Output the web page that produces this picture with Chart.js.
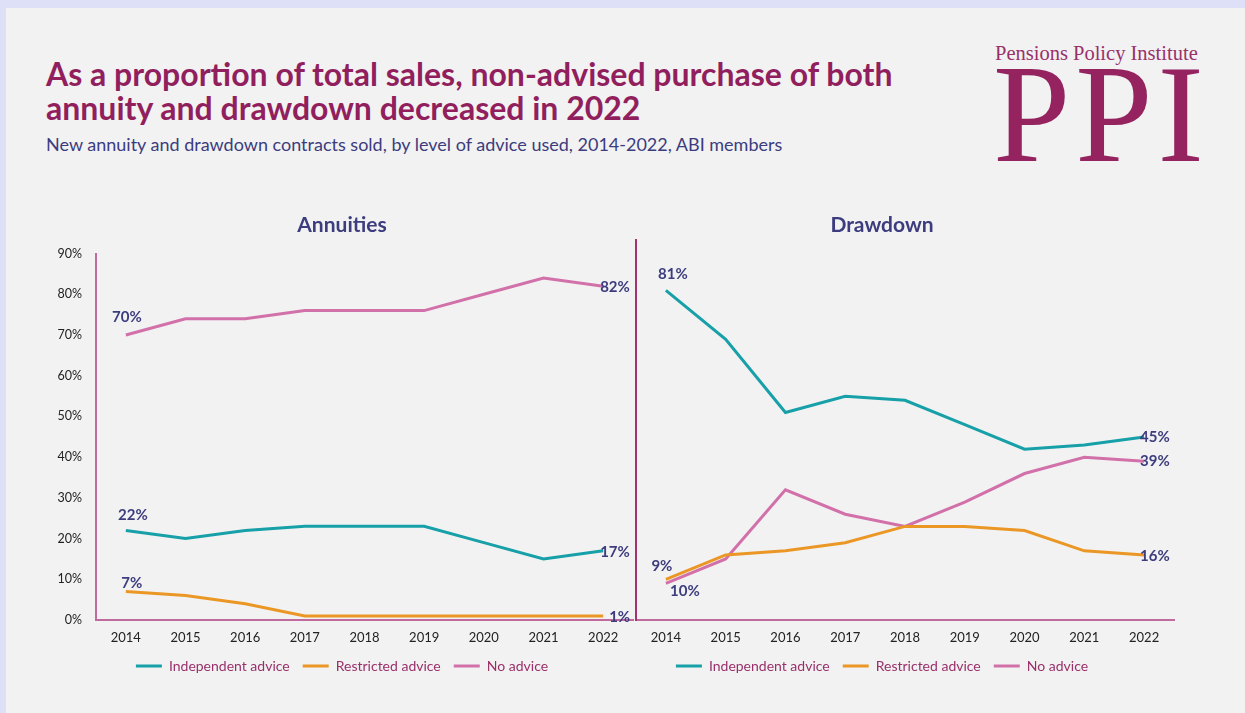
<!DOCTYPE html>
<html>
<head>
<meta charset="utf-8">
<script src="https://cdn.jsdelivr.net/npm/chart.js@4"></script>
<style>
  html, body { margin: 0; padding: 0; }
  body { width: 1245px; height: 713px; background: #dde0f6; position: relative; overflow: hidden; font-family: Lato, sans-serif; }
  #panel { position: absolute; left: 6px; top: 8px; right: 0; bottom: 0; background: #f2f2f2; }
  .title { position: absolute; left: 46px; top: 57px; margin: 0; font-size: 32px; font-weight: 700; line-height: 34px; color: #911f5d; }
  .subtitle { position: absolute; left: 46px; top: 133px; font-size: 18px; color: #3c3c7e; }
  .logo-small { position: absolute; left: 995px; top: 42px; font-family: "Liberation Serif", serif; font-size: 20.5px; color: #99306a; }
  .logo-big { position: absolute; left: 993px; top: 45px; font-family: "Liberation Serif", serif; font-size: 139px; line-height: 139px; color: #94235f; letter-spacing: 5px; }
  .box { position: absolute; }
</style>
</head>
<body>
<div id="panel"></div>
<h1 class="title">As a proportion of total sales, non-advised purchase of both<br>annuity and drawdown decreased in 2022</h1>
<div class="subtitle">New annuity and drawdown contracts sold, by level of advice used, 2014-2022, ABI members</div>
<div class="logo-big">PPI</div>
<div class="logo-small">Pensions Policy Institute</div>

<div class="box" style="left:40px; top:208px; width:600px; height:475px;"><canvas id="annuityChart"></canvas></div>
<div class="box" style="left:590px; top:208px; width:600px; height:475px;"><canvas id="drawdownChart"></canvas></div>

<script>
const years = ['2014', '2015', '2016', '2017', '2018', '2019', '2020', '2021', '2022'];
const seriesNames = ['Independent advice', 'Restricted advice', 'No advice'];

// annuities, % of contracts sold
const annuityIndependent = [22, 20, 22, 23, 23, 23, 19, 15, 17];
const annuityRestricted = [7, 6, 4, 1, 1, 1, 1, 1, 1];
const annuityNoAdvice = [70, 74, 74, 76, 76, 76, 80, 84, 82];

// drawdown, % of contracts sold
const drawdownIndependent = [81, 69, 51, 55, 54, 48, 42, 43, 45];
const drawdownRestricted = [10, 16, 17, 19, 23, 23, 22, 17, 16];
const drawdownNoAdvice = [9, 15, 32, 26, 23, 29, 36, 40, 39];

const yTicks = [0, 10, 20, 30, 40, 50, 60, 70, 80, 90];

const colors = ['#17a0a8', '#eb9726', '#d271a9'];
const labelColor = '#3c3c7e';
const axisColor = '#c06b9e';

// which points get a value label, and where it sits relative to the point
const annuityLabels = [
  [{ i: 0, dx: 7, dy: -15, align: 'center' }, { i: 8, dx: -3, dy: 1, align: 'left' }],
  [{ i: 0, dx: 6, dy: -8, align: 'center' }, { i: 8, dx: 6, dy: 1, align: 'left' }],
  [{ i: 0, dx: 1, dy: -18, align: 'center' }, { i: 8, dx: -3, dy: 1, align: 'left' }]
];
const drawdownLabels = [
  [{ i: 0, dx: 7, dy: -16, align: 'center' }, { i: 8, dx: -4, dy: 0, align: 'left' }],
  [{ i: 0, dx: 19, dy: 12, align: 'center' }, { i: 8, dx: -4, dy: 1, align: 'left' }],
  [{ i: 0, dx: -4, dy: -17, align: 'center' }, { i: 8, dx: -4, dy: 0, align: 'left' }]
];

const valueLabels = {
  id: 'valueLabels',
  afterDatasetsDraw(chart, args, opts) {
    const ctx = chart.ctx;
    ctx.save();
    ctx.font = 'bold 15px Lato';
    ctx.fillStyle = labelColor;
    ctx.textBaseline = 'middle';
    opts.spec.forEach((list, d) => {
      const meta = chart.getDatasetMeta(d);
      list.forEach(s => {
        const pt = meta.data[s.i];
        ctx.textAlign = s.align;
        ctx.fillText(chart.data.datasets[d].data[s.i] + '%', pt.x + s.dx, pt.y + s.dy);
      });
    });
    ctx.restore();
  }
};

function datasets(values) {
  return values.map((v, k) => ({
    label: seriesNames[k],
    data: v,
    borderColor: colors[k],
    backgroundColor: colors[k],
    borderWidth: 3,
    pointRadius: 0,
    tension: 0
  }));
}

function makeChart(id, title, values, spec, cfg) {
  return new Chart(document.getElementById(id), {
    type: 'line',
    data: { labels: years, datasets: datasets(values) },
    options: {
      responsive: true,
      maintainAspectRatio: false,
      animation: false,
      layout: { padding: cfg.pad },
      plugins: {
        title: {
          display: true, text: title, color: labelColor,
          font: { family: 'Lato', size: 21, weight: 'bold' },
          padding: { top: 0, bottom: cfg.titleGap }
        },
        legend: {
          position: 'bottom',
          labels: {
            usePointStyle: true, pointStyle: 'line', pointStyleWidth: 26,
            color: '#99306a', font: { family: 'Lato', size: 14 }, padding: 13
          }
        },
        tooltip: { enabled: false },
        valueLabels: { spec: spec }
      },
      scales: {
        x: {
          offset: true,
          grid: { display: false, drawTicks: false },
          border: { color: axisColor, width: 2 },
          afterFit: s => { s.height = 26; },
          ticks: { color: '#222', font: { family: 'Lato', size: 13 }, padding: 10.4 }
        },
        y: {
          min: 0, max: cfg.yMax,
          grid: { display: false, drawTicks: false },
          border: { color: cfg.showTicks ? axisColor : '#a2336f', width: 2 },
          afterBuildTicks: s => { s.ticks = yTicks.map(v => ({ value: v })); },
          afterFit: s => { s.width = cfg.leftWidth; },
          ticks: {
            display: cfg.showTicks, color: '#222', padding: 14,
            font: { family: 'Lato', size: 12.5 },
            callback: v => v + '%'
          }
        }
      }
    },
    plugins: [valueLabels]
  });
}

makeChart('annuityChart', 'Annuities',
  [annuityIndependent, annuityRestricted, annuityNoAdvice], annuityLabels,
  { showTicks: true, yMax: 90, leftWidth: 45, titleGap: 15.4, pad: { top: 5, left: 11, right: 7, bottom: 0 } });
makeChart('drawdownChart', 'Drawdown',
  [drawdownIndependent, drawdownRestricted, drawdownNoAdvice], drawdownLabels,
  { showTicks: false, yMax: 93.5, leftWidth: 46, titleGap: 1.4, pad: { top: 5, left: 0, right: 16, bottom: 0 } });
</script>
</body>
</html>
